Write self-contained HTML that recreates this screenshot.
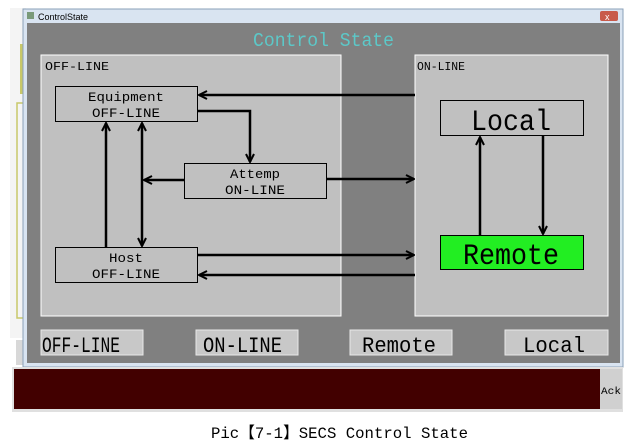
<!DOCTYPE html>
<html><head><meta charset="utf-8"><style>
html,body{margin:0;padding:0;background:#fff;width:627px;height:441px;overflow:hidden}
svg{display:block}
text{font-family:"Liberation Mono","Noto Sans CJK SC",monospace}
</style></head><body>
<svg width="627" height="441" viewBox="0 0 627 441" xmlns="http://www.w3.org/2000/svg">
<defs>
<marker id="a" markerWidth="10" markerHeight="10" refX="9" refY="5" orient="auto" markerUnits="userSpaceOnUse">
<path d="M1,1 L9,5 L1,9" fill="none" stroke="#000" stroke-width="2"/>
</marker>
</defs>
<rect x="10" y="8" width="16" height="330" fill="#f4f4f4"/>
<rect x="20" y="44" width="4" height="50" fill="#c8c86a"/>
<rect x="17" y="103" width="8" height="215" fill="none" stroke="#c8c86a" stroke-width="1.5"/>
<rect x="16" y="340" width="12" height="25" fill="#d8d8d8"/>
<!-- window -->
<rect x="23" y="9" width="600" height="358" fill="#d9e4f1" stroke="#8aa0b8"/>
<rect x="27" y="12" width="7" height="7" fill="#7a9a7a"/>
<text x="38" y="20" font-size="9" fill="#000" style="font-family:'Liberation Sans',sans-serif">ControlState</text>
<rect x="600" y="11" width="18" height="10" rx="2" fill="#c85a4a"/>
<text x="605" y="20" font-size="9" fill="#fff" style="font-family:'Liberation Sans',sans-serif">x</text>
<rect x="27" y="23" width="593" height="340" fill="#808080"/>
<text x="253" y="46" font-size="19" fill="#5cc8c8" textLength="141" lengthAdjust="spacingAndGlyphs">Control State</text>
<rect x="41" y="55" width="300" height="261" fill="#c0c0c0" stroke="#fff"/>
<rect x="415" y="55" width="193" height="261" fill="#c0c0c0" stroke="#fff"/>
<text x="45" y="70" font-size="12" fill="#000" textLength="64" lengthAdjust="spacingAndGlyphs">OFF-LINE</text>
<text x="417" y="70" font-size="12" fill="#000" textLength="48" lengthAdjust="spacingAndGlyphs">ON-LINE</text>
<g fill="none" stroke="#000" stroke-width="1">
<rect x="55.5" y="86.5" width="142" height="35"/>
<rect x="184.5" y="163.5" width="142" height="35"/>
<rect x="55.5" y="247.5" width="142" height="35"/>
<rect x="440.5" y="100.5" width="143" height="35"/>
</g>
<rect x="440.5" y="235.5" width="143" height="34" fill="#22ee22" stroke="#000"/>
<g font-size="13" fill="#000" text-anchor="middle">
<text x="126" y="101" textLength="76" lengthAdjust="spacingAndGlyphs">Equipment</text><text x="126" y="117" textLength="68" lengthAdjust="spacingAndGlyphs">OFF-LINE</text>
<text x="255" y="178" textLength="50" lengthAdjust="spacingAndGlyphs">Attemp</text><text x="255" y="194" textLength="60" lengthAdjust="spacingAndGlyphs">ON-LINE</text>
<text x="126" y="262" textLength="34" lengthAdjust="spacingAndGlyphs">Host</text><text x="126" y="278" textLength="68" lengthAdjust="spacingAndGlyphs">OFF-LINE</text>
</g>
<text x="511" y="130" font-size="30" text-anchor="middle" fill="#000" textLength="80" lengthAdjust="spacingAndGlyphs">Local</text>
<text x="511" y="264" font-size="30" text-anchor="middle" fill="#000" textLength="96" lengthAdjust="spacingAndGlyphs">Remote</text>
<g stroke="#000" stroke-width="2.5" fill="none">
<line x1="415" y1="95" x2="199" y2="95" marker-end="url(#a)"/>
<polyline points="198,111 250,111 250,162" marker-end="url(#a)"/>
<line x1="106" y1="247" x2="106" y2="123" marker-end="url(#a)"/>
<line x1="142" y1="185" x2="142" y2="123" marker-end="url(#a)"/>
<line x1="142" y1="185" x2="142" y2="246" marker-end="url(#a)"/>
<line x1="184" y1="180" x2="144" y2="180" marker-end="url(#a)"/>
<line x1="326" y1="179" x2="414" y2="179" marker-end="url(#a)"/>
<line x1="198" y1="255" x2="414" y2="255" marker-end="url(#a)"/>
<line x1="415" y1="275" x2="199" y2="275" marker-end="url(#a)"/>
<line x1="480" y1="235" x2="480" y2="137" marker-end="url(#a)"/>
<line x1="543" y1="136" x2="543" y2="234" marker-end="url(#a)"/>
</g>
<g fill="#c8c8c8" stroke="#e8e8e8">
<rect x="41" y="330" width="102" height="25"/>
<rect x="196" y="330" width="102" height="25"/>
<rect x="350" y="330" width="102" height="25"/>
<rect x="505" y="330" width="103" height="25"/>
</g>
<g font-size="22" fill="#000">
<text x="42" y="352" textLength="78" lengthAdjust="spacingAndGlyphs">OFF-LINE</text>
<text x="203" y="352" textLength="79" lengthAdjust="spacingAndGlyphs">ON-LINE</text>
<text x="362" y="352" textLength="74" lengthAdjust="spacingAndGlyphs">Remote</text>
<text x="523" y="352" textLength="62" lengthAdjust="spacingAndGlyphs">Local</text>
</g>
<rect x="12" y="367" width="611" height="45" fill="#e0e0e0"/>
<rect x="14" y="369" width="586" height="40" fill="#420000"/>
<rect x="600" y="369" width="22" height="40" fill="#d0d0d0"/>
<text x="611" y="394" font-size="10" text-anchor="middle" fill="#000" textLength="20" lengthAdjust="spacingAndGlyphs">Ack</text>
<text x="211" y="438" font-size="16" fill="#000" textLength="257" lengthAdjust="spacingAndGlyphs">Pic【7-1】SECS Control State</text>
</svg>
</body></html>
